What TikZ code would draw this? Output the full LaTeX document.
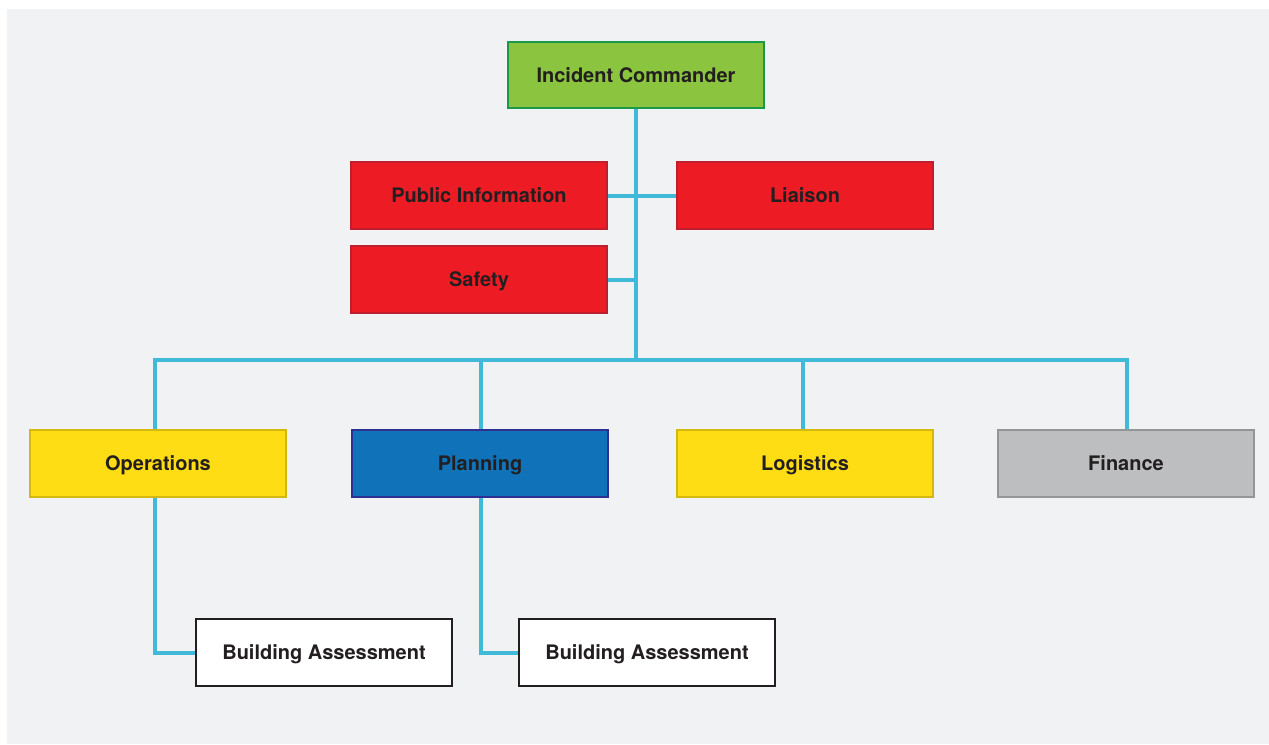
\documentclass[tikz,border=0pt]{standalone}
\usepackage{fontspec}
\setmainfont{TeX Gyre Heros}
\definecolor{bgc}{HTML}{F1F2F4}
\definecolor{linec}{HTML}{41BAD9}
\definecolor{txt}{HTML}{231F20}
\definecolor{grf}{HTML}{8BC53F}
\definecolor{grd}{HTML}{1A9A48}
\definecolor{redf}{HTML}{ED1C24}
\definecolor{redd}{HTML}{BE1E2D}
\definecolor{yelf}{HTML}{FFDD15}
\definecolor{yeld}{HTML}{D4B80F}
\definecolor{bluf}{HTML}{1073BA}
\definecolor{blud}{HTML}{2E3192}
\definecolor{gryf}{HTML}{BCBEC0}
\definecolor{gryd}{HTML}{939598}
\pgfdeclarelayer{back}
\pgfdeclarelayer{bg}
\pgfsetlayers{back,bg,main}
\begin{document}
\begin{tikzpicture}[x=0.75pt,y=-0.75pt,
  box/.style={rectangle, line width=1.3pt, inner sep=0pt, minimum width=192pt, minimum height=50pt,
    text height=10.8pt, text depth=0pt,
    font=\fontsize{15pt}{18pt}\selectfont\bfseries, text=txt},
  greenbox/.style={box, fill=grf, draw=grd},
  redbox/.style={box, fill=redf, draw=redd},
  yellowbox/.style={box, fill=yelf, draw=yeld},
  bluebox/.style={box, fill=bluf, draw=blud},
  greybox/.style={box, fill=gryf, draw=gryd},
  whitebox/.style={box, fill=white, draw=txt},
  conn/.style={draw=linec, line width=3pt}]
\useasboundingbox (0,0) rectangle (1269,744);
\begin{pgfonlayer}{back}
\fill[white] (0,0) rectangle (1269,744);
\fill[bgc] (7,9) rectangle (1269,744);
\end{pgfonlayer}
\node[greenbox] (ic) at (636,75) {Incident Commander};
\node[redbox] (pi) at (479,195.5) {Public Information};
\node[redbox] (li) at (805,195.5) {Liaison};
\node[redbox] (sa) at (479,279.5) {Safety};
\node[yellowbox] (ops) at (158,463.5) {Operations};
\node[bluebox] (pl) at (480,463.5) {Planning};
\node[yellowbox] (lo) at (805,463.5) {Logistics};
\node[greybox] (fi) at (1126,463.5) {Finance};
\node[whitebox] (ba1) at (324,652.5) {Building Assessment};
\node[whitebox] (ba2) at (647,652.5) {Building Assessment};
\coordinate (b1) at (155,360);
\coordinate (b2) at (481,360);
\coordinate (b3) at (803,360);
\coordinate (b4) at (1127,360);
\begin{pgfonlayer}{bg}
\draw[conn] (ic.south) -- (ic.south |- b1);
\draw[conn] (pi.east) -- (li.west);
\draw[conn] (sa.east) -- (sa.east -| ic.south);
\draw[conn] (b1 |- ops.north) -- (b1) -- (b4) -- (b4 |- fi.north);
\draw[conn] (b2) -- (b2 |- pl.north);
\draw[conn] (b3) -- (b3 |- lo.north);
\draw[conn] (b1 |- ops.south) |- (ba1.west);
\draw[conn] (b2 |- pl.south) |- (ba2.west);
\end{pgfonlayer}
\end{tikzpicture}
\end{document}
